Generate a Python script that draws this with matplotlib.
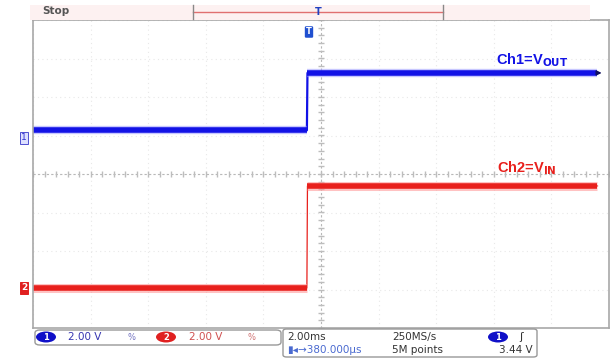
import matplotlib
matplotlib.use("Agg")
import matplotlib.pyplot as plt
import numpy as np
from matplotlib.patches import FancyBboxPatch, Ellipse

# ---- data (time in ms, voltages in V) ----
time_ms = [-10.0, -0.49, -0.47, 9.6]
ch1_v = [0.40, 0.40, 3.38, 3.38]      # VOUT
ch2_v = [0.00, 0.00, 5.30, 5.30]      # VIN
volts_per_div = 2.0
ms_per_div = 2.0
ch1_offset_div = 0.935
ch2_offset_div = -2.96

fig = plt.figure(figsize=(6.12, 3.61), dpi=100)
fig.patch.set_facecolor("white")
ax = fig.add_axes([33/612, 33/361, 576/612, 308/361])
ax.set_xlim(-5, 5)
ax.set_ylim(-4, 4)
ax.set_facecolor("white")
for s in ax.spines.values():
    s.set_color("#a8a8a8")
    s.set_linewidth(1.2)
ax.set_xticks(np.arange(-5, 5.01, 1))
ax.set_yticks(np.arange(-4, 4.01, 1))
ax.tick_params(length=0, labelbottom=False, labelleft=False)
ax.grid(True, color="#e8e8e8", linestyle=(0, (1, 3)), linewidth=0.8)
# centre cross-hair with ticks
ax.axhline(0, color="#b8b8b8", linestyle=(0, (2, 2)), linewidth=0.8)
ax.axvline(0, color="#b8b8b8", linestyle=(0, (2, 2)), linewidth=0.8)
tk = np.arange(-5, 5.01, 0.2)
ax.plot(tk, np.zeros_like(tk), linestyle="none", marker="|", color="#bdbdbd", markersize=4)
tk2 = np.arange(-4, 4.01, 0.2)
ax.plot(np.zeros_like(tk2), tk2, linestyle="none", marker="_", color="#bdbdbd", markersize=4)

t = np.array(time_ms) / ms_per_div
y1 = np.array(ch1_v) / volts_per_div + ch1_offset_div
y2 = np.array(ch2_v) / volts_per_div + ch2_offset_div
blue = "#1212e6"
red = "#e8201c"
# edges drawn thin, flat levels drawn thick
ax.plot(t, y1, color=blue, linewidth=1.6)
ax.plot(t, y2, color=red, linewidth=0.9)
for seg in (slice(0, 2), slice(2, 4)):
    ax.plot(t[seg], y1[seg], color="#9090ff", linewidth=6, alpha=0.5, solid_capstyle="butt")
    ax.plot(t[seg], y1[seg], color=blue, linewidth=4, solid_capstyle="butt")
    ax.plot(t[seg], y2[seg], color="#ff9a9a", linewidth=6.5, alpha=0.6, solid_capstyle="butt")
    ax.plot(t[seg], y2[seg], color=red, linewidth=4, solid_capstyle="butt")
ax.annotate("", xy=(4.92, y1[-1]), xytext=(4.75, y1[-1]),
            arrowprops=dict(arrowstyle="-|>", color="#101060", lw=1, mutation_scale=7))

fs = "Liberation Sans"
ax.text(3.66, 2.96, r"Ch1=V$_{\mathbf{OUT}}$", color=blue, fontsize=10.5, fontweight="bold",
        family=fs, ha="center", va="center")
ax.text(3.58, 0.16, r"Ch2=V$_{\mathbf{IN}}$", color=red, fontsize=10.5, fontweight="bold",
        family=fs, ha="center", va="center")

# ---- figure-level decorations (pixel coords) ----
def fx(x): return x / 612
def fy(y): return 1 - y / 361

fig.patches.append(FancyBboxPatch((fx(30), fy(20)), fx(560), 15/361, boxstyle="square,pad=0",
                                  transform=fig.transFigure, facecolor="#fdf1f1", edgecolor="none", zorder=0))
fig.text(fx(42), fy(11), "Stop", fontsize=7.5, color="#555555", family="DejaVu Sans",
         fontweight="bold", va="center")
fig.lines.append(plt.Line2D([fx(193), fx(443)], [fy(12), fy(12)], transform=fig.transFigure,
                            color="#e07070", linewidth=1))
for xx in (193, 443):
    fig.lines.append(plt.Line2D([fx(xx), fx(xx)], [fy(5), fy(19)], transform=fig.transFigure,
                                color="#888888", linewidth=1))
fig.text(fx(318), fy(12), "T", fontsize=7, color="#2040c0", fontweight="bold", ha="center", va="center")
fig.text(fx(309), fy(32), "T", fontsize=6, color="white", fontweight="bold", ha="center", va="center",
         bbox=dict(boxstyle="round,pad=0.15", facecolor="#2050d0", edgecolor="none"))

# left channel markers
fig.text(fx(24), fy(138), "1", fontsize=6.5, color="#3030d0", ha="center", va="center",
         bbox=dict(boxstyle="square,pad=0.15", facecolor="#dde0ff", edgecolor="#5050d0", linewidth=0.7))
fig.text(fx(24), fy(288), "2", fontsize=6.5, color="white", ha="center", va="center", fontweight="bold",
         bbox=dict(boxstyle="square,pad=0.15", facecolor="#e02020", edgecolor="#e02020", linewidth=0.7))

# bottom status boxes
fig.patches.append(FancyBboxPatch((fx(35), fy(345)), fx(246), 15/361, boxstyle="round,pad=0,rounding_size=0.008",
                                  transform=fig.transFigure, facecolor="white", edgecolor="#999999", linewidth=1))
fig.patches.append(FancyBboxPatch((fx(283), fy(357)), fx(254), 28/361, boxstyle="round,pad=0,rounding_size=0.006",
                                  transform=fig.transFigure, facecolor="white", edgecolor="#999999", linewidth=1))
for cx, col in ((46, "#1010c8"), (166, "#e02020"), (498, "#1010c8")):
    fig.patches.append(Ellipse((fx(cx), fy(337)), 20/612, 11/361, transform=fig.transFigure,
                               facecolor=col, edgecolor="none"))
fig.text(fx(46), fy(337), "1", fontsize=6, color="white", ha="center", va="center", fontweight="bold")
fig.text(fx(166), fy(337), "2", fontsize=6, color="white", ha="center", va="center", fontweight="bold")
fig.text(fx(498), fy(337), "1", fontsize=6, color="white", ha="center", va="center", fontweight="bold")
sfs = 7.5
fig.text(fx(68), fy(337), "2.00 V", fontsize=sfs, color="#3535b0", va="center")
fig.text(fx(128), fy(337), "%", fontsize=6, color="#7070c0", va="center")
fig.text(fx(189), fy(337), "2.00 V", fontsize=sfs, color="#d05050", va="center")
fig.text(fx(248), fy(337), "%", fontsize=6, color="#d07070", va="center")
fig.text(fx(287), fy(337), "2.00ms", fontsize=sfs, color="#333333", va="center")
fig.text(fx(392), fy(337), "250MS/s", fontsize=sfs, color="#333333", va="center")
fig.text(fx(519), fy(337), "\u0283", fontsize=8, color="#333333", va="center")
fig.text(fx(287), fy(350), "\u25ae\u25c2\u2192380.000\u00b5s", fontsize=sfs, color="#4a6ad0", va="center")
fig.text(fx(392), fy(350), "5M points", fontsize=sfs, color="#333333", va="center")
fig.text(fx(533), fy(350), "3.44 V", fontsize=sfs, color="#333333", va="center", ha="right")

fig.savefig("out.png", dpi=100)
